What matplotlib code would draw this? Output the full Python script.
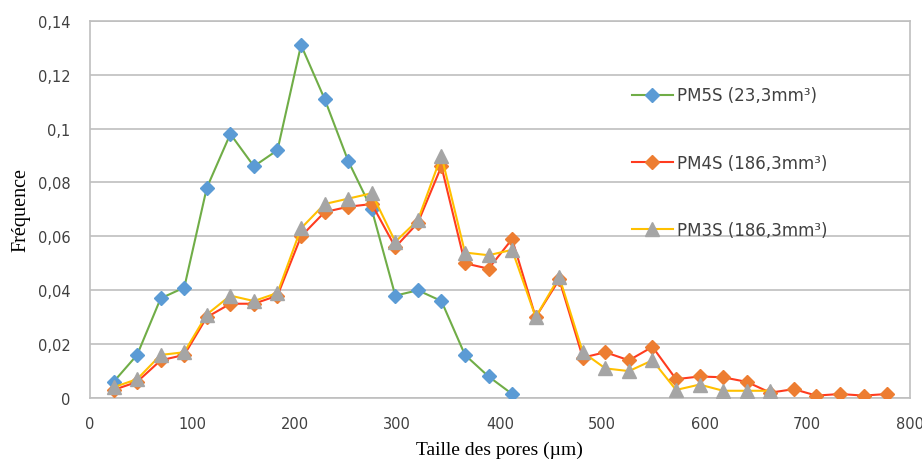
import matplotlib
matplotlib.use("Agg")
import matplotlib.pyplot as plt
from matplotlib.ticker import FuncFormatter

# Taille des pores (um)
taille = [23, 46, 69, 92, 114, 137, 160, 183, 206, 229, 252, 275, 298, 320,
          343, 366, 389, 412, 435, 458, 481, 503, 526, 549, 572, 595, 618,
          641, 664, 687, 709, 732, 755, 778]

pm5s = [0.006, 0.016, 0.037, 0.041, 0.078, 0.098, 0.086, 0.092, 0.131,
        0.111, 0.088, 0.070, 0.038, 0.040, 0.036, 0.016, 0.008, 0.0015]

pm4s = [0.003, 0.006, 0.014, 0.016, 0.030, 0.035, 0.035, 0.038, 0.060,
        0.069, 0.071, 0.072, 0.056, 0.065, 0.086, 0.050, 0.048, 0.059,
        0.030, 0.044, 0.015, 0.017, 0.014, 0.019, 0.007, 0.008, 0.0077,
        0.006, 0.002, 0.0033, 0.0009, 0.0015, 0.0009, 0.0015]

pm3s = [0.004, 0.007, 0.016, 0.017, 0.031, 0.038, 0.036, 0.039, 0.063,
        0.072, 0.074, 0.076, 0.058, 0.066, 0.090, 0.054, 0.053, 0.055,
        0.030, 0.045, 0.017, 0.011, 0.010, 0.014, 0.003, 0.005, 0.0027,
        0.0027, 0.0027]

labels = ["PM5S (23,3mm³)", "PM4S (186,3mm³)", "PM3S (186,3mm³)"]

fig = plt.figure(figsize=(9.22, 4.64), dpi=100)
ax = fig.add_axes([0.0976, 0.140, 0.889, 0.813])

l1, = ax.plot(taille[:len(pm5s)], pm5s, color="#70AD47", lw=1.5, marker="D",
              ms=7.5, mfc="#5B9BD5", mec="#5B9BD5", zorder=3)
l2, = ax.plot(taille[:len(pm4s)], pm4s, color="#FF3B1F", lw=1.5, marker="D",
              ms=7.5, mfc="#ED7D31", mec="#ED7D31", zorder=4)
l3, = ax.plot(taille[:len(pm3s)], pm3s, color="#FFC000", lw=1.5, marker="^",
              ms=9.5, mfc="#A5A5A5", mec="#A5A5A5", zorder=5)

ax.set_xlim(0, 800)
ax.set_ylim(0, 0.14)
ax.set_xticks(range(0, 801, 100))
ax.set_yticks([0, 0.02, 0.04, 0.06, 0.08, 0.1, 0.12, 0.14])
ax.yaxis.set_major_formatter(FuncFormatter(lambda v, p: ("%g" % round(v, 2)).replace(".", ",")))

ax.grid(axis="y", color="#BFBFBF", lw=1.2)
ax.set_axisbelow(True)
for s in ax.spines.values():
    s.set_color("#BFBFBF")
    s.set_linewidth(1.2)
ax.tick_params(length=0, labelsize=10.5, colors="#404040")
ax.tick_params(axis="x", pad=13)
ax.tick_params(axis="y", pad=14)
for t in ax.get_xticklabels() + ax.get_yticklabels():
    t.set_family("DejaVu Sans")

ax.set_xlabel("Taille des pores (µm)", family="Liberation Serif", fontsize=14, labelpad=7)
ax.set_ylabel("Fréquence", family="Liberation Serif", fontsize=14.5, labelpad=5)

leg = ax.legend([l1, l2, l3], labels, frameon=False, loc="upper left",
                bbox_to_anchor=(0.661, 0.826), borderaxespad=0, borderpad=0,
                labelspacing=2.95, handlelength=2.45, handletextpad=0.25,
                prop={"family": "DejaVu Sans", "size": 12})
for t in leg.get_texts():
    t.set_color("#404040")

fig.savefig("out.png", dpi=100)
